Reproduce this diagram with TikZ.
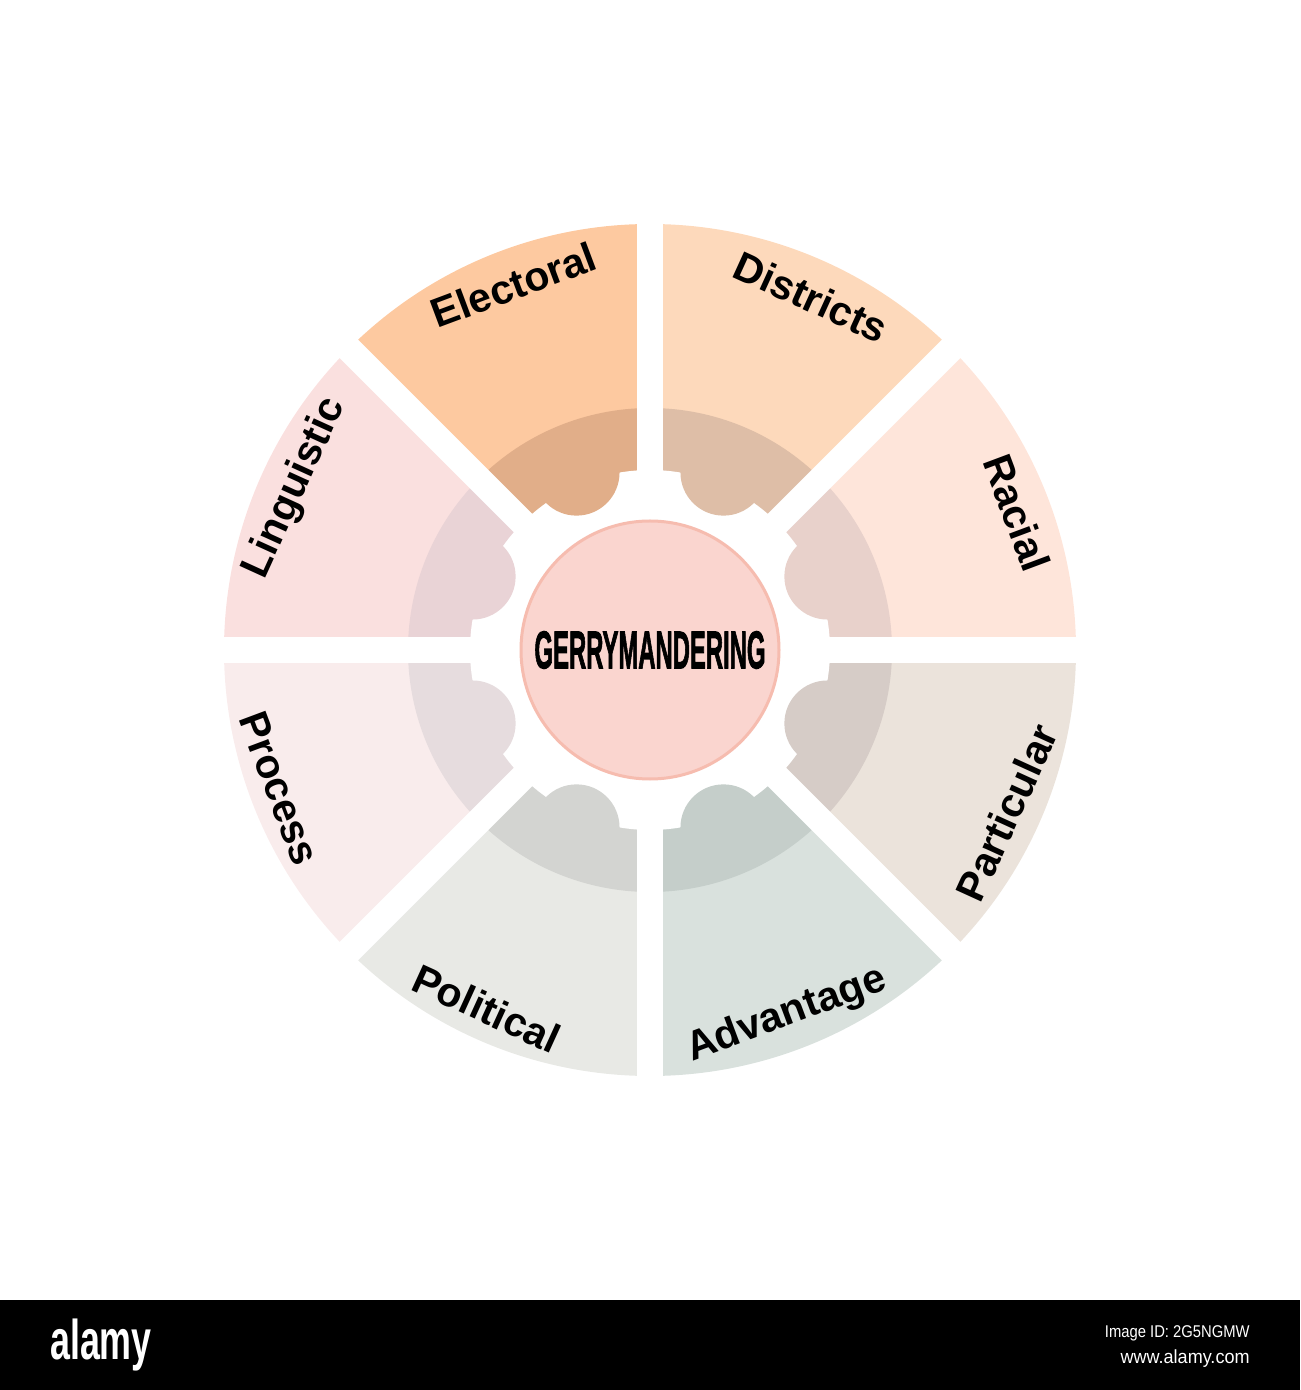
\documentclass[tikz,border=0pt]{standalone}
\usepackage{fontspec}
\setmainfont{Liberation Sans}
\newfontfamily\hubfont{Liberation Sans}[BoldFeatures={FakeBold=2.2}]
\usepackage{tikz}
\usetikzlibrary{calc}
\usepackage{xcolor}
\definecolor{electoral_out}{HTML}{FDC9A0}
\definecolor{electoral_in}{HTML}{E1AE89}
\definecolor{districts_out}{HTML}{FDD9BB}
\definecolor{districts_in}{HTML}{DEBEA7}
\definecolor{racial_out}{HTML}{FEE5DA}
\definecolor{racial_in}{HTML}{E8D1CB}
\definecolor{particular_out}{HTML}{EBE3DB}
\definecolor{particular_in}{HTML}{D6CCC7}
\definecolor{advantage_out}{HTML}{D9E1DD}
\definecolor{advantage_in}{HTML}{C5CECA}
\definecolor{political_out}{HTML}{E8E9E5}
\definecolor{political_in}{HTML}{D3D4D1}
\definecolor{process_out}{HTML}{F9ECEC}
\definecolor{process_in}{HTML}{E6DCDE}
\definecolor{linguistic_out}{HTML}{FAE0DF}
\definecolor{linguistic_in}{HTML}{E9D3D6}
\definecolor{hub_fill}{HTML}{FAD5CF}
\definecolor{hub_line}{HTML}{F6BCAF}
\tikzset{
	label text/.style={font=\fontsize{20.5}{24}\selectfont\bfseries, text=black, inner sep=0pt},
	gap line/.style={white, line width=13pt}
}

\begin{document}
\begin{tikzpicture}[x=0.5pt, y=0.5pt]
	\useasboundingbox (-650, -740) rectangle (650, 650);
	% outer wedges
	\fill[districts_out] (0, 0) -- (45:426) arc[start angle=45, end angle=90, radius=426] -- cycle;
	\fill[electoral_out] (0, 0) -- (90:426) arc[start angle=90, end angle=135, radius=426] -- cycle;
	\fill[linguistic_out] (0, 0) -- (135:426) arc[start angle=135, end angle=180, radius=426] -- cycle;
	\fill[process_out] (0, 0) -- (180:426) arc[start angle=180, end angle=225, radius=426] -- cycle;
	\fill[political_out] (0, 0) -- (225:426) arc[start angle=225, end angle=270, radius=426] -- cycle;
	\fill[advantage_out] (0, 0) -- (270:426) arc[start angle=270, end angle=315, radius=426] -- cycle;
	\fill[particular_out] (0, 0) -- (315:426) arc[start angle=315, end angle=360, radius=426] -- cycle;
	\fill[racial_out] (0, 0) -- (0:426) arc[start angle=0, end angle=45, radius=426] -- cycle;
	% inner ring
	\fill[districts_in] (0, 0) -- (45:242) arc[start angle=45, end angle=90, radius=242] -- cycle;
	\fill[electoral_in] (0, 0) -- (90:242) arc[start angle=90, end angle=135, radius=242] -- cycle;
	\fill[linguistic_in] (0, 0) -- (135:242) arc[start angle=135, end angle=180, radius=242] -- cycle;
	\fill[process_in] (0, 0) -- (180:242) arc[start angle=180, end angle=225, radius=242] -- cycle;
	\fill[political_in] (0, 0) -- (225:242) arc[start angle=225, end angle=270, radius=242] -- cycle;
	\fill[advantage_in] (0, 0) -- (270:242) arc[start angle=270, end angle=315, radius=242] -- cycle;
	\fill[particular_in] (0, 0) -- (315:242) arc[start angle=315, end angle=360, radius=242] -- cycle;
	\fill[racial_in] (0, 0) -- (0:242) arc[start angle=0, end angle=45, radius=242] -- cycle;
	\fill[white] (0, 0) circle(180);
	% gear bumps
	\fill[districts_in] (67.5:192) circle(43);
	\fill[electoral_in] (112.5:192) circle(43);
	\fill[linguistic_in] (157.5:192) circle(43);
	\fill[process_in] (202.5:192) circle(43);
	\fill[political_in] (247.5:192) circle(43);
	\fill[advantage_in] (292.5:192) circle(43);
	\fill[particular_in] (337.5:192) circle(43);
	\fill[racial_in] (22.5:192) circle(43);
	% gaps
	\draw[gap line] (180:440) -- (0:440);
	\draw[gap line] (225:440) -- (45:440);
	\draw[gap line] (270:440) -- (90:440);
	\draw[gap line] (315:440) -- (135:440);
	% hub
	\filldraw[fill=hub_fill, draw=hub_line, line width=1.5pt] (0, 0) circle(129);
	\node[inner sep=0pt] (hub) at (0, 0) {\fontsize{26.5}{30}\selectfont\hubfont\bfseries\scalebox{0.45}[1]{GERRYMANDERING}};
	% labels
	\node[label text, rotate=20.5] (electoral) at (110.5:390) {Electoral};
	\node[label text, rotate=-24.5] (districts) at (65.5:388) {Districts};
	\node[label text, rotate=-69.5] (racial) at (20.5:392) {Racial};
	\node[label text, rotate=65.5] (particular) at (-24.5:392) {Particular};
	\node[label text, rotate=20.5] (advantage) at (-69.5:390) {Advantage};
	\node[label text, rotate=-24.5] (political) at (-114.5:394) {Political};
	\node[label text, rotate=-69.5] (process) at (200.5:396) {Process};
	\node[label text, rotate=65.5] (linguistic) at (155.5:390) {Linguistic};
	% banner
	\fill[black] (-650, -650) rectangle (650, -740);
	\node[text=white, inner sep=0pt] (logo) at (-549, -695) {\fontsize{28}{30}\selectfont\bfseries\scalebox{0.64}[1]{alamy}};
	\node[text=white, anchor=east, inner sep=0pt] (imageid) at (600, -683) {\fontsize{8.5}{10}\selectfont\scalebox{0.87}[1]{Image ID: 2G5NGMW}};
	\node[text=white, anchor=east, inner sep=0pt] (site) at (600, -709) {\fontsize{9.5}{11}\selectfont\scalebox{0.95}[1]{www.alamy.com}};
\end{tikzpicture}
\end{document}
